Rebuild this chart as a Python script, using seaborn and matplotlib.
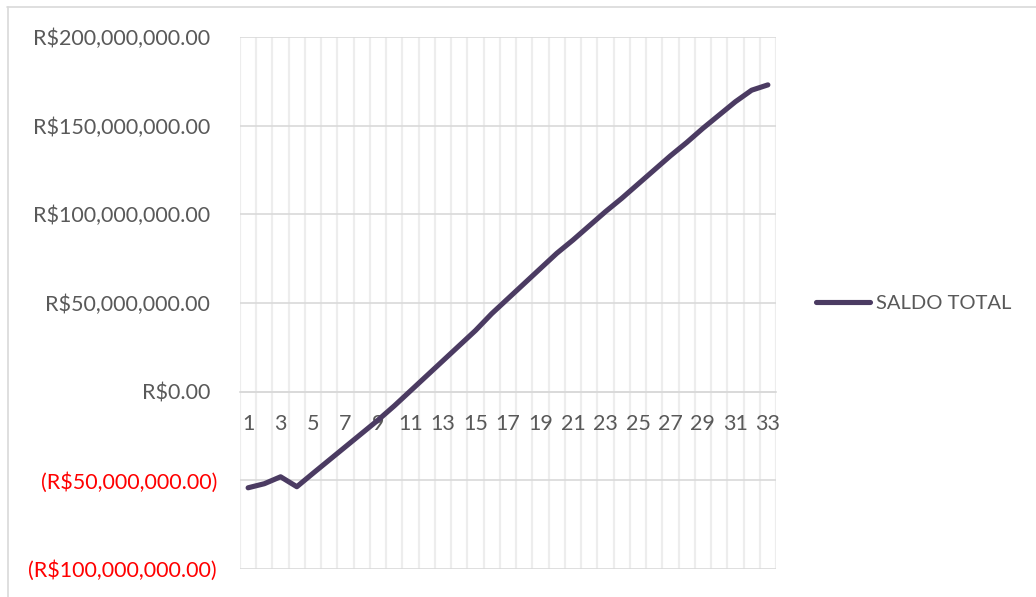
import matplotlib
matplotlib.use("Agg")
import matplotlib.pyplot as plt
import matplotlib.transforms as mtransforms
from matplotlib.lines import Line2D
from matplotlib.ticker import FixedLocator, FuncFormatter
import numpy as np
import pandas as pd
import seaborn as sns

# Accumulated balance per period (R$)
periods = list(range(1, 34))
saldo_total_mi = [
    -54.2, -51.9, -48.0, -53.6, -46.0, -38.5, -31.0, -23.5, -16.0, -8.0,
    0.5, 9.0, 17.5, 26.0, 34.5, 44.0, 52.5, 61.0, 69.5, 78.0,
    85.5, 93.5, 101.5, 109.0, 117.0, 125.0, 133.0, 140.5, 148.5, 156.0,
    163.5, 170.0, 173.0,
]
series_name = "SALDO TOTAL"
y_ticks = [-100e6, -50e6, 0, 50e6, 100e6, 150e6, 200e6]

df = pd.DataFrame({"periodo": periods,
                   "saldo": [v * 1e6 for v in saldo_total_mi]})

sns.set_style("white")
plt.rcParams["font.family"] = ["Lato", "DejaVu Sans"]

LINE = "#4B3B62"
GRID = "#d9d9d9"
VGRID = "#ededed"
TEXT = "#595959"
FS = 15.5

fig = plt.figure(figsize=(10.36, 5.97), dpi=100)
W, H = 1036, 597
ax = fig.add_axes([240 / W, 1 - 569 / H, (776 - 240) / W, (569 - 37) / H])

# light vertical separators between periods, kept behind everything
ax.vlines(np.arange(0.5, 34.0, 1.0), -100e6, 200e6, colors=VGRID,
          linewidth=1.6, zorder=0.2)

sns.lineplot(data=df, x="periodo", y="saldo", ax=ax, color=LINE,
             linewidth=3.7, legend=False, solid_capstyle="round", zorder=3)

ax.set_xlim(0.5, 33.5)
ax.set_ylim(-100e6, 200e6)
ax.set_xlabel("")
ax.set_ylabel("")

# y axis: currency labels, negatives in red parentheses
ax.yaxis.set_major_locator(FixedLocator(y_ticks))


def brl(v, _pos=None):
    s = f"R${abs(v):,.2f}"
    return f"({s})" if v < 0 else s


ax.yaxis.set_major_formatter(FuncFormatter(brl))
ax.tick_params(axis="y", length=0, pad=16.5, labelsize=FS, labelcolor=TEXT)

# x axis sits on zero; labels on every other period
ax.set_xticks(periods)
ax.set_xticklabels([str(p) if p % 2 == 1 else "" for p in periods])
ax.set_xticks(np.arange(0.5, 34.0, 1.0), minor=True)
ax.tick_params(axis="x", which="major", length=0, pad=16,
               labelsize=FS, labelcolor=TEXT)
ax.tick_params(axis="x", which="minor", length=4, width=1.0, color=GRID,
               direction="out")

for side in ["top", "right", "left"]:
    ax.spines[side].set_visible(False)
ax.spines["bottom"].set_position(("data", 0))
ax.spines["bottom"].set_color(GRID)
ax.spines["bottom"].set_linewidth(1.2)

ax.xaxis.grid(False, which="both")
ax.yaxis.grid(True, color=GRID, linewidth=1.2)
ax.set_axisbelow(True)

fig.canvas.draw()
for lbl in ax.get_yticklabels():
    txt = lbl.get_text()
    if txt.startswith("("):
        lbl.set_color("#FF0000")
    else:
        lbl.set_transform(lbl.get_transform() +
                          mtransforms.ScaledTranslation(-5 / 72, 0,
                                                        fig.dpi_scale_trans))

# legend on the right
handle = Line2D([], [], color=LINE, linewidth=3.7, solid_capstyle="round")
fig.legend([handle], [series_name], loc="center left",
           bbox_to_anchor=(808 / W, 1 - 303 / H), frameon=False,
           fontsize=14.5, labelcolor=TEXT, handlelength=2.7,
           handletextpad=0.3, borderaxespad=0)

# chart area border (top and left edges)
fig.add_artist(Line2D([7 / W, 1.0], [1 - 6.5 / H, 1 - 6.5 / H],
                      transform=fig.transFigure, color=GRID, linewidth=1.2))
fig.add_artist(Line2D([7.5 / W, 7.5 / W], [0, 1 - 6.5 / H],
                      transform=fig.transFigure, color=GRID, linewidth=1.2))

fig.savefig("out.png", dpi=100, facecolor="white")
